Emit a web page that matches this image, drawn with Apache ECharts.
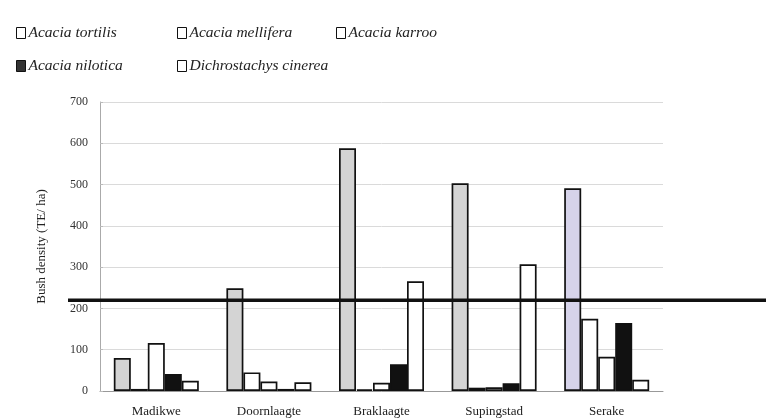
<!DOCTYPE html>
<html>
<head>
<meta charset="utf-8">
<script src="https://cdn.jsdelivr.net/npm/echarts@6/dist/echarts.min.js"></script>
<style>html,body{margin:0;padding:0;background:#fff;}#c{width:766px;height:420px;}</style>
</head>
<body>
<div id="c"></div>
<script>
const categories = ['Madikwe', 'Doornlaagte', 'Braklaagte', 'Supingstad', 'Serake'];
const seriesNames = ['Acacia tortilis', 'Acacia mellifera', 'Acacia karroo', 'Acacia nilotica', 'Dichrostachys cinerea'];
const tortilis = [80, 249, 588, 503, 491];
const mellifera = [5, 45, 4, 8, 175];
const karroo = [116, 23, 20, 9, 83];
const nilotica = [41, 5, 65, 19, 165];
const cinerea = [25, 21, 266, 307, 27];
const yTicks = [0, 100, 200, 300, 400, 500, 600, 700];
const scanLineValue = 220;

const serif = 'Liberation Serif, Times New Roman, serif';
const fills = ['#d4d4d4', '#ffffff', '#ffffff', '#111111', '#ffffff'];
const values = [tortilis, mellifera, karroo, nilotica, cinerea];

const chart = echarts.init(document.getElementById('c'));

const legendPos = [
  {left: 11, top: 20}, {left: 172, top: 20}, {left: 331, top: 20},
  {left: 11, top: 53}, {left: 172, top: 53}
];
const legends = seriesNames.map((n, i) => ({
  data: [{name: n, itemStyle: {color: i === 3 ? '#333' : '#fff', borderColor: '#111', borderWidth: 1}}],
  left: legendPos[i].left, top: legendPos[i].top,
  icon: 'rect', itemWidth: 9, itemHeight: 11, itemGap: 3,
  selectedMode: false,
  textStyle: {fontFamily: serif, fontStyle: 'italic', fontSize: 15.5, color: '#222', padding: [0, 0, 0, -2]}
}));

const series = seriesNames.map((n, i) => ({
  name: n,
  type: 'bar',
  barWidth: 17,
  barGap: '0%',
  data: values[i].map((v, j) => (i === 0 && j === 4) ? {value: v, itemStyle: {color: '#d6d3ea'}} : v),
  itemStyle: {color: fills[i], borderColor: '#111', borderWidth: 1.7},
  emphasis: {disabled: true}
}));

chart.setOption({
  animation: false,
  backgroundColor: '#fff',
  legend: legends,
  grid: {left: 100, right: 103, top: 102, bottom: 29},
  xAxis: {
    type: 'category',
    data: categories,
    axisLine: {lineStyle: {color: '#999', width: 1}},
    axisTick: {show: false},
    axisLabel: {fontFamily: serif, fontSize: 13, color: '#222', margin: 14}
  },
  yAxis: {
    type: 'value',
    min: yTicks[0], max: yTicks[yTicks.length - 1], interval: 100,
    name: 'Bush density (TE/ ha)',
    nameLocation: 'middle',
    nameGap: 52,
    nameTextStyle: {fontFamily: serif, fontSize: 13, color: '#222'},
    axisLine: {show: true, lineStyle: {color: '#aaa', width: 1}},
    axisTick: {show: true, inside: true, length: 3, lineStyle: {color: '#bbb'}},
    splitLine: {lineStyle: {color: '#dadada', width: 1}},
    axisLabel: {fontFamily: serif, fontSize: 12, color: '#333', margin: 12}
  },
  series: series
});

const yPix = chart.convertToPixel({yAxisIndex: 0}, scanLineValue);
chart.setOption({
  graphic: [{
    type: 'line', z: 100,
    shape: {x1: 68, y1: yPix, x2: 766, y2: yPix},
    style: {stroke: '#111', lineWidth: 3.5}
  }]
});
</script>
</body>
</html>
